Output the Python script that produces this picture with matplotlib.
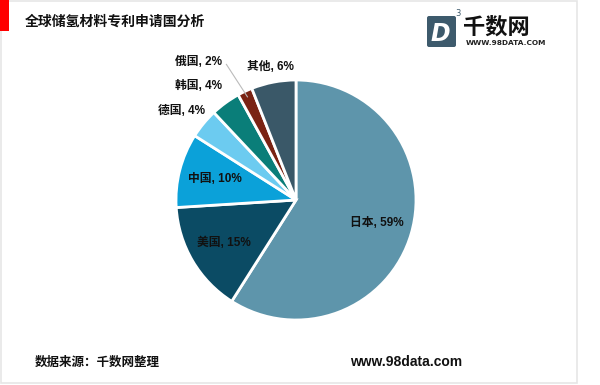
import matplotlib
matplotlib.use("Agg")
import matplotlib.pyplot as plt
from matplotlib.patches import Rectangle, FancyBboxPatch
import numpy as np

plt.rcParams['font.family'] = ['Noto Sans CJK SC', 'DejaVu Sans']

countries = ["日本", "美国", "中国", "德国", "韩国", "俄国", "其他"]
shares = [59, 15, 10, 4, 4, 2, 6]
colors = ["#5E95AB", "#0B4B64", "#0BA1D9", "#6CCBF0", "#0A7E79", "#7A2313", "#3A5868"]

title = "全球储氢材料专利申请国分析"
source = "数据来源：千数网整理"
site = "www.98data.com"

W, H = 600, 385
fig = plt.figure(figsize=(W / 100, H / 100), dpi=100)
fig.patch.set_facecolor("white")

LBL = ["Liberation Sans", "Noto Sans CJK SC"]

bg = fig.add_axes([0, 0, 1, 1])
bg.set_xlim(0, W)
bg.set_ylim(H, 0)
bg.axis("off")
bg.add_patch(Rectangle((0.5, 0.5), 576, 382, fill=False, ec="#E6E6E6", lw=1.2))
bg.add_patch(Rectangle((0, 0), 9, 31, color="#FF0000", lw=0))
bg.text(25, 22, title, fontsize=10, fontweight="bold", va="center", ha="left", color="#111111")
bg.text(35, 362, source, fontsize=9, fontweight="bold", va="center", ha="left", color="#111111")
bg.text(350, 362, site, fontsize=10, fontweight="bold", va="center", ha="left", color="#111111",
        family=["Liberation Sans"])

# logo
bg.add_patch(FancyBboxPatch((427, 16), 29, 31, boxstyle="round,pad=0,rounding_size=2",
                            fc="#3D5A6C", ec="none"))
bg.text(440, 34, "D", fontsize=17, fontweight="bold", fontstyle="italic", color="white",
        ha="center", va="center", family=["DejaVu Sans"])
bg.text(455, 14, "3", fontsize=6, color="#3D5A6C", ha="left", va="center", family=["DejaVu Sans"])
bg.text(463, 27, "千数网", fontsize=16, fontweight="bold", color="#111111", ha="left", va="center")
bg.text(466, 43, "WWW.98DATA.COM", fontsize=5.3, fontweight="bold", color="#222222", ha="left",
        va="center", family=["DejaVu Sans"])

# pie axes: center (296,200), radius 120 px
cx, cy, r = 296, 200, 120
ax = fig.add_axes([(cx - r) / W, 1 - (cy + r) / H, 2 * r / W, 2 * r / H])
wedges, _ = ax.pie(shares, colors=colors, startangle=90, counterclock=False,
                   wedgeprops=dict(edgecolor="white", linewidth=2))
ax.set_xlim(-1, 1)
ax.set_ylim(-1, 1)
ax.set_aspect("equal")
ax.axis("off")

labels = [f"{c}, {s}%" for c, s in zip(countries, shares)]
for i in range(3):
    w = wedges[i]
    ang = np.deg2rad((w.theta1 + w.theta2) / 2)
    d = 0.70
    ax.text(d * np.cos(ang), d * np.sin(ang), labels[i], ha="center", va="center",
            fontsize=8.5, fontweight="bold", color="#111111", family=LBL)

outer = {3: (-0.76, 0.74), 4: (-0.62, 0.95), 5: (-0.62, 1.15), 6: (-0.02, 1.11)}
for i, (x, y) in outer.items():
    ax.text(x, y, labels[i], ha="right", va="center", fontsize=8.5, fontweight="bold",
            color="#111111", clip_on=False, family=LBL)

w = wedges[5]
ang = np.deg2rad((w.theta1 + w.theta2) / 2)
ax.plot([-0.58, 0.95 * np.cos(ang)], [1.13, 0.95 * np.sin(ang)], color="#BBBBBB", lw=0.8,
        clip_on=False)

fig.savefig("out.png", dpi=100, facecolor="white")
